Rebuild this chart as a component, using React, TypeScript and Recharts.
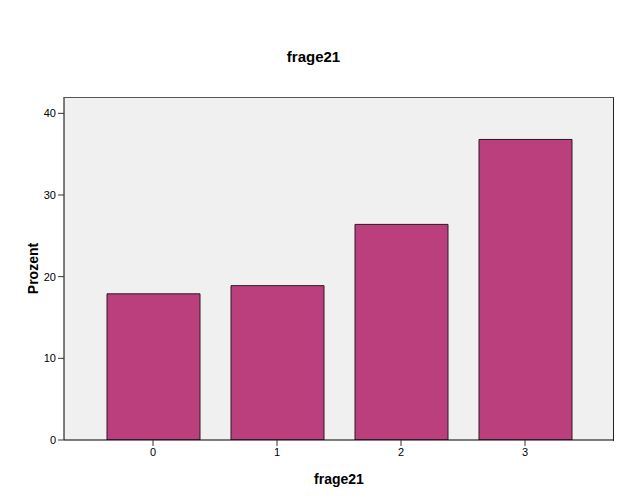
import React from 'react';
import { BarChart, Bar, XAxis, YAxis, CartesianGrid } from 'recharts';

const categories = ['0', '1', '2', '3'];
const prozent = [17.9, 18.9, 26.4, 36.8];
const yTicks = [0, 10, 20, 30, 40];

const data = categories.map((c, i) => ({ name: c, value: prozent[i] }));

const font = 'Arial, "Liberation Sans", sans-serif';

export default function App() {
  return (
    <div style={{ position: 'absolute', left: 0, top: 0, width: 627, height: 502, background: '#fff', fontFamily: font }}>
      <div
        style={{
          position: 'absolute',
          top: 48,
          left: 0,
          width: 627,
          textAlign: 'center',
          fontSize: 15,
          fontWeight: 'bold',
          color: '#000',
        }}
      >
        frage21
      </div>
      <BarChart
        width={627}
        height={502}
        data={data}
        margin={{ top: 97, right: 13, bottom: 0, left: 0 }}
      >
        <CartesianGrid fill="#f0f0f0" horizontal={false} vertical={false} />
        <XAxis
          dataKey="name"
          padding={{ left: 27, right: 27 }}
          tick={{ fontSize: 11, fill: '#000', fontFamily: font }}
          tickLine={{ stroke: '#333' }}
          axisLine={{ stroke: '#000' }}
          tickSize={6}
          height={62}
          label={{ value: 'frage21', position: 'insideBottom', offset: 18, style: { fontSize: 14, fontWeight: 'bold', fill: '#000', fontFamily: font } }}
        />
        <YAxis
          domain={[0, 42]}
          ticks={yTicks}
          allowDataOverflow
          width={64}
          tick={{ fontSize: 11, fill: '#000', fontFamily: font }}
          tickLine={{ stroke: '#333' }}
          axisLine={{ stroke: '#000' }}
          tickSize={6}
          label={{ value: 'Prozent', angle: -90, position: 'insideLeft', offset: 33, style: { fontSize: 14, fontWeight: 'bold', fill: '#000', fontFamily: font, textAnchor: 'middle' } }}
        />
        <Bar
          dataKey="value"
          fill="#bb3f7c"
          stroke="#2a1a22"
          strokeWidth={1}
          barSize={93}
          isAnimationActive={false}
        />
      </BarChart>
      {/* frame on the top and right of the plot area */}
      <div
        style={{
          position: 'absolute',
          left: 64,
          top: 97,
          width: 549,
          height: 343,
          borderTop: '1px solid #555',
          borderRight: '1px solid #222',
          pointerEvents: 'none',
        }}
      />
    </div>
  );
}
